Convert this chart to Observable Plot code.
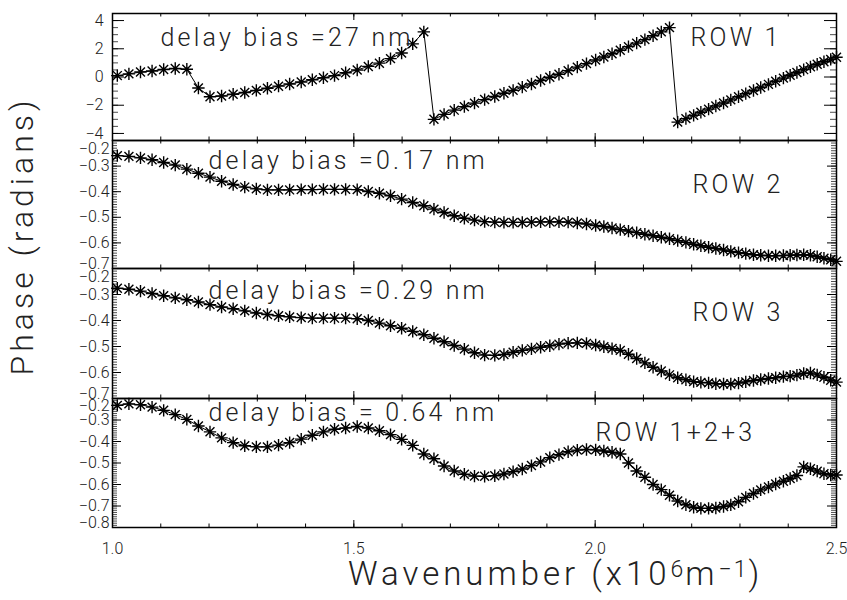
<!DOCTYPE html>
<html>
<head>
<meta charset="utf-8">
<script src="https://cdn.jsdelivr.net/npm/d3@7"></script>
<script src="https://cdn.jsdelivr.net/npm/@observablehq/plot@0.6"></script>
<style>
  html, body { margin: 0; padding: 0; background: #fff; }
  #wrap { position: relative; width: 847px; height: 600px; overflow: hidden; background: #fff;
          font-family: "Roboto Light", Roboto, "DejaVu Sans", sans-serif; font-weight: 300; color: #222; }
  #wrap svg { position: absolute; left: 0; overflow: visible; }
  #wrap svg g[aria-label="text"] text { letter-spacing: 3.2px; }
  .ytitle { position: absolute; width: 360px; left: -158px; top: 218px; text-align: center;
            font-size: 32px; letter-spacing: 4px; line-height: 36px; transform: rotate(-90deg); transform-origin: 50% 50%; white-space: nowrap; }
  .xtitle { position: absolute; left: 348px; top: 555px; font-size: 33px; letter-spacing: 4px; line-height: 38px; white-space: nowrap; }
  .xtitle sup { font-size: 23px; position: relative; top: -4px; vertical-align: top; letter-spacing: 2px; }
</style>
</head>
<body>
<div id="wrap"></div>
<script>
// ---------------- data ----------------
const wavenumber = [1.010, 1.034, 1.058, 1.082, 1.106, 1.130, 1.154, 1.178, 1.202, 1.226, 1.250, 1.274, 1.298,
  1.321, 1.344, 1.367, 1.391, 1.414, 1.437, 1.460, 1.483, 1.507, 1.530, 1.553, 1.576, 1.599, 1.622, 1.645,
  1.666, 1.687, 1.708, 1.729, 1.750, 1.771, 1.792,
  1.811, 1.830, 1.849, 1.868, 1.887, 1.906, 1.925, 1.944, 1.963, 1.982, 2.001,
  2.018, 2.035, 2.052, 2.069, 2.086, 2.103, 2.120, 2.137, 2.154, 2.171, 2.188,
  2.204, 2.219, 2.235, 2.250, 2.266, 2.281, 2.297, 2.312, 2.328, 2.343, 2.359, 2.374, 2.390,
  2.404, 2.418, 2.432, 2.446, 2.460, 2.474, 2.488, 2.500];

const phaseRow1 = [0.10, 0.22, 0.35, 0.43, 0.53, 0.60, 0.55, -0.78, -1.40, -1.35, -1.22, -1.10, -0.95,
  -0.80, -0.65, -0.50, -0.35, -0.20, -0.05, 0.10, 0.30, 0.50, 0.75, 0.98, 1.30, 1.70, 2.35, 3.20,
  -3.00, -2.65, -2.35, -2.10, -1.85, -1.60, -1.38,
  -1.15, -0.95, -0.72, -0.50, -0.25, -0.02, 0.20, 0.45, 0.70, 0.95, 1.20,
  1.42, 1.65, 1.90, 2.15, 2.40, 2.65, 2.92, 3.20, 3.50, -3.20, -2.95,
  -2.72, -2.50, -2.28, -2.06, -1.84, -1.62, -1.40, -1.18, -0.96, -0.74, -0.52, -0.30, -0.08,
  0.12, 0.32, 0.52, 0.72, 0.90, 1.08, 1.25, 1.40];

const phaseRow2 = [-0.259, -0.262, -0.268, -0.275, -0.286, -0.296, -0.312, -0.328, -0.343, -0.359, -0.372, -0.382, -0.389,
  -0.393, -0.393, -0.393, -0.392, -0.392, -0.391, -0.391, -0.391, -0.392, -0.399, -0.406, -0.416, -0.429, -0.442, -0.455,
  -0.468, -0.481, -0.494, -0.504, -0.511, -0.517, -0.519,
  -0.520, -0.520, -0.520, -0.519, -0.518, -0.518, -0.518, -0.519, -0.522, -0.526, -0.532,
  -0.536, -0.542, -0.548, -0.554, -0.560, -0.566, -0.572, -0.578, -0.584, -0.591, -0.598,
  -0.605, -0.611, -0.617, -0.622, -0.628, -0.633, -0.638, -0.642, -0.646, -0.648, -0.650, -0.650, -0.649,
  -0.648, -0.647, -0.646, -0.648, -0.654, -0.660, -0.666, -0.672];

const phaseRow3 = [-0.276, -0.280, -0.287, -0.296, -0.305, -0.313, -0.320, -0.329, -0.339, -0.348, -0.355, -0.363, -0.371,
  -0.377, -0.382, -0.386, -0.389, -0.391, -0.391, -0.391, -0.391, -0.393, -0.400, -0.410, -0.420, -0.430, -0.442, -0.455,
  -0.468, -0.482, -0.496, -0.510, -0.524, -0.533, -0.534,
  -0.531, -0.522, -0.515, -0.509, -0.503, -0.497, -0.491, -0.487, -0.486, -0.488, -0.494,
  -0.501, -0.508, -0.515, -0.530, -0.546, -0.563, -0.580, -0.594, -0.609, -0.620, -0.628,
  -0.635, -0.638, -0.640, -0.643, -0.644, -0.644, -0.641, -0.636, -0.631, -0.627, -0.623, -0.620, -0.616,
  -0.614, -0.610, -0.604, -0.602, -0.609, -0.618, -0.630, -0.637];

const phaseRow123 = [-0.232, -0.225, -0.229, -0.240, -0.255, -0.275, -0.297, -0.328, -0.355, -0.383, -0.405, -0.420, -0.425,
  -0.425, -0.417, -0.405, -0.389, -0.371, -0.355, -0.343, -0.337, -0.330, -0.337, -0.350, -0.368, -0.390, -0.418, -0.458,
  -0.480, -0.514, -0.537, -0.552, -0.561, -0.562, -0.559,
  -0.551, -0.540, -0.528, -0.512, -0.495, -0.475, -0.461, -0.448, -0.440, -0.437, -0.439,
  -0.444, -0.450, -0.458, -0.500, -0.537, -0.566, -0.600, -0.624, -0.650, -0.677, -0.694,
  -0.706, -0.711, -0.711, -0.709, -0.702, -0.695, -0.680, -0.660, -0.642, -0.625, -0.612, -0.598, -0.585,
  -0.572, -0.558, -0.518, -0.527, -0.538, -0.550, -0.556, -0.556];

const biasLabels = ["delay bias =27 nm", "delay bias =0.17 nm", "delay bias =0.29 nm", "delay bias = 0.64 nm"];
const rowLabels = ["ROW 1", "ROW 2", "ROW 3", "ROW 1+2+3"];
const xTickLabels = [1.0, 1.5, 2.0, 2.5];
const yTicksRow1 = [-4, -2, 0, 2, 4];
const yTicksRow2 = [-0.7, -0.6, -0.5, -0.4, -0.3, -0.2];
const yTicksRow3 = [-0.7, -0.6, -0.5, -0.4, -0.3, -0.2];
const yTicksRow123 = [-0.8, -0.7, -0.6, -0.5, -0.4, -0.3, -0.2];

// ---------------- layout ----------------
const W = 847, ML = 112, MR = 11, IW = W - ML - MR;
const frameTops = [13, 140, 268, 398];
const frameBots = [140, 268, 398, 527];

const panels = [
  {values: phaseRow1, domain: [-4.5, 4.5], ticks: yTicksRow1, minorStep: 0.5, majorLen: 12, minorLen: 6, pad: 9, fmt: "d",
   shiftTop: 0, shiftBottom: 0, biasDx: 48, biasDy: 32, rowDx: 578, rowDy: 32},
  {values: phaseRow2, domain: [-0.7, -0.2], ticks: yTicksRow2, minorStep: 0.01, majorLen: 9, minorLen: 5, pad: 3, fmt: ".1f",
   shiftTop: 8, shiftBottom: -5, biasDx: 96, biasDy: 28, rowDx: 580, rowDy: 52},
  {values: phaseRow3, domain: [-0.7, -0.2], ticks: yTicksRow3, minorStep: 0.01, majorLen: 9, minorLen: 5, pad: 3, fmt: ".1f",
   shiftTop: 8, shiftBottom: -5, biasDx: 96, biasDy: 30, rowDx: 580, rowDy: 52},
  {values: phaseRow123, domain: [-0.8, -0.2], ticks: yTicksRow123, minorStep: 0.01, majorLen: 9, minorLen: 5, pad: 3, fmt: ".1f",
   shiftTop: 7, shiftBottom: -5, biasDx: 96, biasDy: 22, rowDx: 483, rowDy: 42}
];

// IDL-style asterisk (plus + cross)
const asterisk = {
  draw(ctx, size) {
    const r = Math.sqrt(size / Math.PI), d = r * 0.72;
    ctx.moveTo(-r, 0); ctx.lineTo(r, 0);
    ctx.moveTo(0, -r); ctx.lineTo(0, r);
    ctx.moveTo(-d, -d); ctx.lineTo(d, d);
    ctx.moveTo(-d, d); ctx.lineTo(d, -d);
  }
};

const wrap = document.getElementById("wrap");
const FONT = '"Roboto Light", Roboto, "DejaVu Sans", sans-serif';
const TXT = "#222";

panels.forEach((p, i) => {
  const top = frameTops[i], h = frameBots[i] - frameTops[i];
  const mt = 15, mb = i === 3 ? 45 : 15;
  const data = wavenumber.map((x, j) => ({x, y: p.values[j]}));
  const [lo, hi] = p.domain;
  const nMinor = Math.round((hi - lo) / p.minorStep);
  const minors = d3.range(nMinor + 1).map(k => +(lo + k * p.minorStep).toFixed(4));
  const xMinor = d3.range(16).map(k => +(1 + k * 0.1).toFixed(2));
  const inner = p.ticks.filter(t => t > lo + 1e-9 && t < hi - 1e-9);
  const edgeTop = p.ticks.filter(t => Math.abs(t - hi) < 1e-9);
  const edgeBot = p.ticks.filter(t => Math.abs(t - lo) < 1e-9);
  const axisCommon = {tickSize: 0, tickPadding: p.pad, tickFormat: p.fmt, label: null, fontSize: 16, fill: TXT};
  const textCommon = {text: d => d, frameAnchor: "top-left", textAnchor: "start", lineAnchor: "bottom",
    fontSize: 25, fill: TXT};

  const marks = [
    Plot.line(data, {x: "x", y: "y", stroke: "#000", strokeWidth: 1}),
    Plot.dot(data, {x: "x", y: "y", symbol: asterisk, r: 6.2, stroke: "#000", strokeWidth: 1.4, fill: "none"}),
    // inward ticks, left and right
    Plot.tickY(minors, {insetRight: IW - p.minorLen, stroke: "#000", strokeWidth: 0.7}),
    Plot.tickY(p.ticks, {insetRight: IW - p.majorLen, stroke: "#000", strokeWidth: 1}),
    Plot.tickY(minors, {insetLeft: IW - p.minorLen, stroke: "#000", strokeWidth: 0.7}),
    Plot.tickY(p.ticks, {insetLeft: IW - p.majorLen, stroke: "#000", strokeWidth: 1}),
    // inward ticks, top and bottom
    Plot.tickX(xMinor, {insetBottom: h - 3.5, stroke: "#000", strokeWidth: 1}),
    Plot.tickX(xTickLabels, {insetBottom: h - 7, stroke: "#000", strokeWidth: 1}),
    Plot.tickX(xMinor, {insetTop: h - 3.5, stroke: "#000", strokeWidth: 1}),
    Plot.tickX(xTickLabels, {insetTop: h - 7, stroke: "#000", strokeWidth: 1}),
    Plot.axisY(inner, axisCommon),
    Plot.axisY(edgeTop, {...axisCommon, dy: p.shiftTop}),
    Plot.axisY(edgeBot, {...axisCommon, dy: p.shiftBottom}),
    Plot.frame({stroke: "#000", strokeWidth: 1.5}),
    Plot.text([biasLabels[i]], {...textCommon, dx: p.biasDx, dy: p.biasDy}),
    Plot.text([rowLabels[i]], {...textCommon, dx: p.rowDx, dy: p.rowDy})
  ];
  if (i === 3) {
    marks.push(Plot.axisX(xTickLabels, {tickSize: 0, tickPadding: 15, tickFormat: ".1f", label: null, fontSize: 16, fill: TXT}));
  }
  const svg = Plot.plot({
    width: W, height: h + mt + mb,
    marginLeft: ML, marginRight: MR, marginTop: mt, marginBottom: mb,
    x: {domain: [1.0, 2.5], axis: i === 3 ? undefined : null},
    y: {domain: p.domain},
    style: {fontFamily: FONT, fontWeight: 300, fontSize: "16px", background: "transparent", overflow: "visible"},
    marks
  });
  svg.style.top = (top - mt) + "px";
  wrap.appendChild(svg);
});

const yt = document.createElement("div");
yt.className = "ytitle";
yt.textContent = "Phase (radians)";
wrap.appendChild(yt);

const xt = document.createElement("div");
xt.className = "xtitle";
xt.innerHTML = "Wavenumber (x10<sup>6</sup>m<sup>\u22121</sup>)";
wrap.appendChild(xt);
</script>
</body>
</html>
